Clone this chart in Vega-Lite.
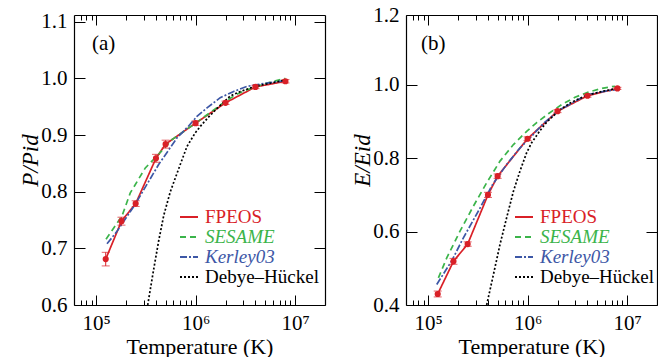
{
  "$schema": "https://vega.github.io/schema/vega-lite/v6.json",
  "background": "white",
  "padding": {"left": 19, "top": 4, "right": 0, "bottom": 0},
  "config": {
    "font": "Liberation Serif",
    "view": {"stroke": null},
    "axis": {"domainColor": "black", "domainWidth": 1.2, "tickColor": "black", "tickWidth": 1, "labelColor": "black", "titleColor": "black", "grid": false, "labelFont": "Liberation Serif", "titleFont": "Liberation Serif", "labelFontSize": 21, "titleFontSize": 22, "titleFontWeight": "normal", "labelOverlap": false, "labelFlush": false},
    "legend": {"labelFont": "Liberation Serif"}
  },
  "datasets": {
    "d": [
      {"p": "a", "m": "FPEOS", "T": 125000, "v": 0.681, "lo": 0.669, "hi": 0.693},
      {"p": "a", "m": "FPEOS", "T": 180000, "v": 0.748, "lo": 0.741, "hi": 0.755},
      {"p": "a", "m": "FPEOS", "T": 250000, "v": 0.779, "lo": 0.774, "hi": 0.784},
      {"p": "a", "m": "FPEOS", "T": 400000, "v": 0.859, "lo": 0.852, "hi": 0.866},
      {"p": "a", "m": "FPEOS", "T": 500000, "v": 0.884, "lo": 0.877, "hi": 0.891},
      {"p": "a", "m": "FPEOS", "T": 1000000, "v": 0.921, "lo": 0.917, "hi": 0.925},
      {"p": "a", "m": "FPEOS", "T": 2000000, "v": 0.957, "lo": 0.954, "hi": 0.960},
      {"p": "a", "m": "FPEOS", "T": 4000000, "v": 0.985, "lo": 0.982, "hi": 0.988},
      {"p": "a", "m": "FPEOS", "T": 8000000, "v": 0.995, "lo": 0.992, "hi": 0.998},
      {"p": "a", "m": "SESAME", "T": 125900, "v": 0.716},
      {"p": "a", "m": "SESAME", "T": 182000, "v": 0.757},
      {"p": "a", "m": "SESAME", "T": 220800, "v": 0.798},
      {"p": "a", "m": "SESAME", "T": 312600, "v": 0.842},
      {"p": "a", "m": "SESAME", "T": 409300, "v": 0.863},
      {"p": "a", "m": "SESAME", "T": 579400, "v": 0.892},
      {"p": "a", "m": "SESAME", "T": 1000000, "v": 0.921},
      {"p": "a", "m": "SESAME", "T": 1460000, "v": 0.942},
      {"p": "a", "m": "SESAME", "T": 2000000, "v": 0.960},
      {"p": "a", "m": "SESAME", "T": 2606000, "v": 0.972},
      {"p": "a", "m": "SESAME", "T": 3162000, "v": 0.979},
      {"p": "a", "m": "SESAME", "T": 5224000, "v": 0.992},
      {"p": "a", "m": "SESAME", "T": 7980000, "v": 1.0},
      {"p": "a", "m": "Kerley03", "T": 128800, "v": 0.708},
      {"p": "a", "m": "Kerley03", "T": 162200, "v": 0.730},
      {"p": "a", "m": "Kerley03", "T": 247700, "v": 0.778},
      {"p": "a", "m": "Kerley03", "T": 425600, "v": 0.848},
      {"p": "a", "m": "Kerley03", "T": 650100, "v": 0.895},
      {"p": "a", "m": "Kerley03", "T": 851100, "v": 0.916},
      {"p": "a", "m": "Kerley03", "T": 1032800, "v": 0.933},
      {"p": "a", "m": "Kerley03", "T": 1303000, "v": 0.948},
      {"p": "a", "m": "Kerley03", "T": 1770000, "v": 0.966},
      {"p": "a", "m": "Kerley03", "T": 2415000, "v": 0.977},
      {"p": "a", "m": "Kerley03", "T": 3289000, "v": 0.986},
      {"p": "a", "m": "Kerley03", "T": 4842000, "v": 0.991},
      {"p": "a", "m": "Kerley03", "T": 7900000, "v": 0.996},
      {"p": "a", "m": "Debye–Hückel", "T": 330400, "v": 0.600},
      {"p": "a", "m": "Debye–Hückel", "T": 379300, "v": 0.663},
      {"p": "a", "m": "Debye–Hückel", "T": 425600, "v": 0.713},
      {"p": "a", "m": "Debye–Hückel", "T": 478600, "v": 0.758},
      {"p": "a", "m": "Debye–Hückel", "T": 557200, "v": 0.800},
      {"p": "a", "m": "Debye–Hückel", "T": 701500, "v": 0.848},
      {"p": "a", "m": "Debye–Hückel", "T": 820400, "v": 0.880},
      {"p": "a", "m": "Debye–Hückel", "T": 993100, "v": 0.904},
      {"p": "a", "m": "Debye–Hückel", "T": 1161400, "v": 0.919},
      {"p": "a", "m": "Debye–Hückel", "T": 1355200, "v": 0.932},
      {"p": "a", "m": "Debye–Hückel", "T": 1710000, "v": 0.950},
      {"p": "a", "m": "Debye–Hückel", "T": 2234000, "v": 0.969},
      {"p": "a", "m": "Debye–Hückel", "T": 2818000, "v": 0.977},
      {"p": "a", "m": "Debye–Hückel", "T": 3981000, "v": 0.986},
      {"p": "a", "m": "Debye–Hückel", "T": 7943000, "v": 0.997},
      {"p": "b", "m": "FPEOS", "T": 125000, "v": 0.430, "lo": 0.422, "hi": 0.438},
      {"p": "b", "m": "FPEOS", "T": 180000, "v": 0.519, "lo": 0.511, "hi": 0.527},
      {"p": "b", "m": "FPEOS", "T": 250000, "v": 0.566, "lo": 0.560, "hi": 0.572},
      {"p": "b", "m": "FPEOS", "T": 400000, "v": 0.700, "lo": 0.693, "hi": 0.707},
      {"p": "b", "m": "FPEOS", "T": 500000, "v": 0.751, "lo": 0.745, "hi": 0.757},
      {"p": "b", "m": "FPEOS", "T": 1000000, "v": 0.853, "lo": 0.848, "hi": 0.858},
      {"p": "b", "m": "FPEOS", "T": 2000000, "v": 0.928, "lo": 0.924, "hi": 0.932},
      {"p": "b", "m": "FPEOS", "T": 4000000, "v": 0.970, "lo": 0.966, "hi": 0.974},
      {"p": "b", "m": "FPEOS", "T": 8000000, "v": 0.990, "lo": 0.987, "hi": 0.993},
      {"p": "b", "m": "SESAME", "T": 127000, "v": 0.474},
      {"p": "b", "m": "SESAME", "T": 154500, "v": 0.529},
      {"p": "b", "m": "SESAME", "T": 209400, "v": 0.601},
      {"p": "b", "m": "SESAME", "T": 285100, "v": 0.669},
      {"p": "b", "m": "SESAME", "T": 388200, "v": 0.733},
      {"p": "b", "m": "SESAME", "T": 528400, "v": 0.792},
      {"p": "b", "m": "SESAME", "T": 721100, "v": 0.837},
      {"p": "b", "m": "SESAME", "T": 979500, "v": 0.873},
      {"p": "b", "m": "SESAME", "T": 1236000, "v": 0.897},
      {"p": "b", "m": "SESAME", "T": 1618000, "v": 0.921},
      {"p": "b", "m": "SESAME", "T": 2203000, "v": 0.946},
      {"p": "b", "m": "SESAME", "T": 2999000, "v": 0.966},
      {"p": "b", "m": "SESAME", "T": 4083000, "v": 0.980},
      {"p": "b", "m": "SESAME", "T": 5781000, "v": 0.991},
      {"p": "b", "m": "SESAME", "T": 7568000, "v": 0.996},
      {"p": "b", "m": "Kerley03", "T": 122200, "v": 0.456},
      {"p": "b", "m": "Kerley03", "T": 172600, "v": 0.520},
      {"p": "b", "m": "Kerley03", "T": 226500, "v": 0.583},
      {"p": "b", "m": "Kerley03", "T": 320600, "v": 0.656},
      {"p": "b", "m": "Kerley03", "T": 435500, "v": 0.724},
      {"p": "b", "m": "Kerley03", "T": 616600, "v": 0.783},
      {"p": "b", "m": "Kerley03", "T": 839500, "v": 0.828},
      {"p": "b", "m": "Kerley03", "T": 1056800, "v": 0.855},
      {"p": "b", "m": "Kerley03", "T": 1450000, "v": 0.895},
      {"p": "b", "m": "Kerley03", "T": 2118000, "v": 0.932},
      {"p": "b", "m": "Kerley03", "T": 3981000, "v": 0.973},
      {"p": "b", "m": "Kerley03", "T": 5888000, "v": 0.982},
      {"p": "b", "m": "Kerley03", "T": 7943000, "v": 0.987},
      {"p": "b", "m": "Debye–Hückel", "T": 388200, "v": 0.400},
      {"p": "b", "m": "Debye–Hückel", "T": 453900, "v": 0.483},
      {"p": "b", "m": "Debye–Hückel", "T": 528400, "v": 0.565},
      {"p": "b", "m": "Debye–Hückel", "T": 616600, "v": 0.638},
      {"p": "b", "m": "Debye–Hückel", "T": 721100, "v": 0.710},
      {"p": "b", "m": "Debye–Hückel", "T": 839500, "v": 0.765},
      {"p": "b", "m": "Debye–Hückel", "T": 979500, "v": 0.815},
      {"p": "b", "m": "Debye–Hückel", "T": 1099000, "v": 0.842},
      {"p": "b", "m": "Debye–Hückel", "T": 1333500, "v": 0.875},
      {"p": "b", "m": "Debye–Hückel", "T": 1556000, "v": 0.898},
      {"p": "b", "m": "Debye–Hückel", "T": 2118000, "v": 0.932},
      {"p": "b", "m": "Debye–Hückel", "T": 2673000, "v": 0.950},
      {"p": "b", "m": "Debye–Hückel", "T": 3243000, "v": 0.961},
      {"p": "b", "m": "Debye–Hückel", "T": 3926000, "v": 0.971},
      {"p": "b", "m": "Debye–Hückel", "T": 5623000, "v": 0.982},
      {"p": "b", "m": "Debye–Hückel", "T": 7943000, "v": 0.990}
    ]
  },
  "bounds": "flush",
  "spacing": 81,
  "resolve": {"legend": {"color": "independent", "strokeDash": "independent"}},
  "hconcat": [
    {
      "width": 251,
      "height": 290,
      "layer": [
        {
          "data": {"name": "d"},
          "transform": [{"filter": "datum.p == 'a'"}],
          "mark": {"type": "line", "strokeWidth": 1.7},
          "encoding": {
            "x": {"field": "T", "type": "quantitative", "scale": {"type": "log", "domain": [60000, 20000000], "nice": false},
              "axis": {"orient": "bottom", "values": [70000, 80000, 90000, 100000, 200000, 300000, 400000, 500000, 600000, 700000, 800000, 900000, 1000000, 2000000, 3000000, 4000000, 5000000, 6000000, 7000000, 8000000, 9000000, 10000000],
                "tickSize": {"condition": {"test": "datum.value == 100000 || datum.value == 1000000 || datum.value == 10000000", "value": -10}, "value": -5},
                "labelExpr": "datum.value == 100000 ? '10⁵' : datum.value == 1000000 ? '10⁶' : datum.value == 10000000 ? '10⁷' : ''",
                "labelPadding": 17, "title": "Temperature (K)", "titlePadding": -2}},
            "y": {"field": "v", "type": "quantitative", "scale": {"domain": [0.6, 1.112], "nice": false, "zero": false},
              "axis": {"orient": "left", "values": [0.6, 0.7, 0.8, 0.9, 1.0, 1.1], "format": ".1f", "tickSize": -11, "labelPadding": 18, "title": "P/Pid", "titleFontSize": 23, "titleFontStyle": "italic", "titlePadding": -2}},
            "color": {"field": "m", "type": "nominal",
              "scale": {"domain": ["FPEOS", "SESAME", "Kerley03", "Debye–Hückel"], "range": ["#d92027", "#3bb44a", "#3d57a6", "#000000"]},
              "legend": {"orient": "none", "legendX": 105, "legendY": 192, "title": null, "symbolType": "stroke", "symbolSize": 324, "symbolStrokeWidth": 1.8, "labelFontSize": 19, "labelOffset": 6, "rowPadding": 0, "padding": 0, "labelLimit": 200,
                "encode": {"labels": {"update": {"fill": {"signal": "datum.value == 'FPEOS' ? '#d92027' : datum.value == 'SESAME' ? '#3bb44a' : datum.value == 'Kerley03' ? '#3d57a6' : '#000000'"}, "fontStyle": {"signal": "datum.value == 'SESAME' || datum.value == 'Kerley03' ? 'italic' : 'normal'"}}}}}},
            "strokeDash": {"field": "m", "type": "nominal",
              "scale": {"domain": ["FPEOS", "SESAME", "Kerley03", "Debye–Hückel"], "range": [[1, 0], [6, 4], [7, 2, 2, 2], [2, 2]]},
              "legend": {"orient": "none", "legendX": 105, "legendY": 192, "title": null, "symbolType": "stroke", "symbolSize": 324, "symbolStrokeWidth": 1.8, "labelFontSize": 19, "labelOffset": 6, "rowPadding": 0, "padding": 0, "labelLimit": 200,
                "encode": {"labels": {"update": {"fill": {"signal": "datum.value == 'FPEOS' ? '#d92027' : datum.value == 'SESAME' ? '#3bb44a' : datum.value == 'Kerley03' ? '#3d57a6' : '#000000'"}, "fontStyle": {"signal": "datum.value == 'SESAME' || datum.value == 'Kerley03' ? 'italic' : 'normal'"}}}}}}
          }
        },
        {
          "data": {"name": "d"},
          "transform": [{"filter": "datum.p == 'a' && datum.m == 'FPEOS'"}],
          "mark": {"type": "errorbar", "ticks": {"size": 8}, "color": "#d92027", "thickness": 1},
          "encoding": {
            "x": {"field": "T", "type": "quantitative", "axis": null},
            "y": {"field": "lo", "type": "quantitative", "axis": null},
            "y2": {"field": "hi"}
          }
        },
        {
          "data": {"name": "d"},
          "transform": [{"filter": "datum.p == 'a' && datum.m == 'FPEOS'"}],
          "mark": {"type": "point", "filled": true, "size": 38, "color": "#d92027", "opacity": 1},
          "encoding": {
            "x": {"field": "T", "type": "quantitative",
              "axis": {"orient": "top", "values": [70000, 80000, 90000, 100000, 200000, 300000, 400000, 500000, 600000, 700000, 800000, 900000, 1000000, 2000000, 3000000, 4000000, 5000000, 6000000, 7000000, 8000000, 9000000, 10000000],
                "tickSize": {"condition": {"test": "datum.value == 100000 || datum.value == 1000000 || datum.value == 10000000", "value": -10}, "value": -5}, "labels": false, "title": null}},
            "y": {"field": "v", "type": "quantitative",
              "axis": {"orient": "right", "values": [0.6, 0.7, 0.8, 0.9, 1.0, 1.1], "tickSize": -11, "labels": false, "title": null}}
          }
        },
        {
          "data": {"values": [{"lab": "(a)"}]},
          "mark": {"type": "text", "fontSize": 21, "font": "Liberation Serif", "align": "center", "baseline": "middle", "color": "black"},
          "encoding": {
            "x": {"datum": 119000, "type": "quantitative", "axis": null},
            "y": {"datum": 1.061, "type": "quantitative", "axis": null},
            "text": {"field": "lab"}
          }
        }
      ]
    },
    {
      "width": 251,
      "height": 290,
      "layer": [
        {
          "data": {"name": "d"},
          "transform": [{"filter": "datum.p == 'b'"}],
          "mark": {"type": "line", "strokeWidth": 1.7},
          "encoding": {
            "x": {"field": "T", "type": "quantitative", "scale": {"type": "log", "domain": [60000, 20000000], "nice": false},
              "axis": {"orient": "bottom", "values": [70000, 80000, 90000, 100000, 200000, 300000, 400000, 500000, 600000, 700000, 800000, 900000, 1000000, 2000000, 3000000, 4000000, 5000000, 6000000, 7000000, 8000000, 9000000, 10000000],
                "tickSize": {"condition": {"test": "datum.value == 100000 || datum.value == 1000000 || datum.value == 10000000", "value": -10}, "value": -5},
                "labelExpr": "datum.value == 100000 ? '10⁵' : datum.value == 1000000 ? '10⁶' : datum.value == 10000000 ? '10⁷' : ''",
                "labelPadding": 17, "title": "Temperature (K)", "titlePadding": -2}},
            "y": {"field": "v", "type": "quantitative", "scale": {"domain": [0.4, 1.19], "nice": false, "zero": false},
              "axis": {"orient": "left", "values": [0.4, 0.6, 0.8, 1.0, 1.19], "labelExpr": "datum.value > 1.15 ? '1.2' : format(datum.value, '.1f')", "tickSize": -11, "labelPadding": 18, "title": "E/Eid", "titleFontSize": 23, "titleFontStyle": "italic", "titlePadding": -2}},
            "color": {"field": "m", "type": "nominal",
              "scale": {"domain": ["FPEOS", "SESAME", "Kerley03", "Debye–Hückel"], "range": ["#d92027", "#3bb44a", "#3d57a6", "#000000"]},
              "legend": {"orient": "none", "legendX": 108, "legendY": 192, "title": null, "symbolType": "stroke", "symbolSize": 324, "symbolStrokeWidth": 1.8, "labelFontSize": 19, "labelOffset": 6, "rowPadding": 0, "padding": 0, "labelLimit": 200,
                "encode": {"labels": {"update": {"fill": {"signal": "datum.value == 'FPEOS' ? '#d92027' : datum.value == 'SESAME' ? '#3bb44a' : datum.value == 'Kerley03' ? '#3d57a6' : '#000000'"}, "fontStyle": {"signal": "datum.value == 'SESAME' || datum.value == 'Kerley03' ? 'italic' : 'normal'"}}}}}},
            "strokeDash": {"field": "m", "type": "nominal",
              "scale": {"domain": ["FPEOS", "SESAME", "Kerley03", "Debye–Hückel"], "range": [[1, 0], [6, 4], [7, 2, 2, 2], [2, 2]]},
              "legend": {"orient": "none", "legendX": 108, "legendY": 192, "title": null, "symbolType": "stroke", "symbolSize": 324, "symbolStrokeWidth": 1.8, "labelFontSize": 19, "labelOffset": 6, "rowPadding": 0, "padding": 0, "labelLimit": 200,
                "encode": {"labels": {"update": {"fill": {"signal": "datum.value == 'FPEOS' ? '#d92027' : datum.value == 'SESAME' ? '#3bb44a' : datum.value == 'Kerley03' ? '#3d57a6' : '#000000'"}, "fontStyle": {"signal": "datum.value == 'SESAME' || datum.value == 'Kerley03' ? 'italic' : 'normal'"}}}}}}
          }
        },
        {
          "data": {"name": "d"},
          "transform": [{"filter": "datum.p == 'b' && datum.m == 'FPEOS'"}],
          "mark": {"type": "errorbar", "ticks": {"size": 8}, "color": "#d92027", "thickness": 1},
          "encoding": {
            "x": {"field": "T", "type": "quantitative", "axis": null},
            "y": {"field": "lo", "type": "quantitative", "axis": null},
            "y2": {"field": "hi"}
          }
        },
        {
          "data": {"name": "d"},
          "transform": [{"filter": "datum.p == 'b' && datum.m == 'FPEOS'"}],
          "mark": {"type": "point", "filled": true, "size": 38, "color": "#d92027", "opacity": 1},
          "encoding": {
            "x": {"field": "T", "type": "quantitative",
              "axis": {"orient": "top", "values": [70000, 80000, 90000, 100000, 200000, 300000, 400000, 500000, 600000, 700000, 800000, 900000, 1000000, 2000000, 3000000, 4000000, 5000000, 6000000, 7000000, 8000000, 9000000, 10000000],
                "tickSize": {"condition": {"test": "datum.value == 100000 || datum.value == 1000000 || datum.value == 10000000", "value": -10}, "value": -5}, "labels": false, "title": null}},
            "y": {"field": "v", "type": "quantitative",
              "axis": {"orient": "right", "values": [0.4, 0.6, 0.8, 1.0], "tickSize": -11, "labels": false, "title": null}}
          }
        },
        {
          "data": {"values": [{"lab": "(b)"}]},
          "mark": {"type": "text", "fontSize": 21, "font": "Liberation Serif", "align": "center", "baseline": "middle", "color": "black"},
          "encoding": {
            "x": {"datum": 113000, "type": "quantitative", "axis": null},
            "y": {"datum": 1.11, "type": "quantitative", "axis": null},
            "text": {"field": "lab"}
          }
        }
      ]
    }
  ]
}
